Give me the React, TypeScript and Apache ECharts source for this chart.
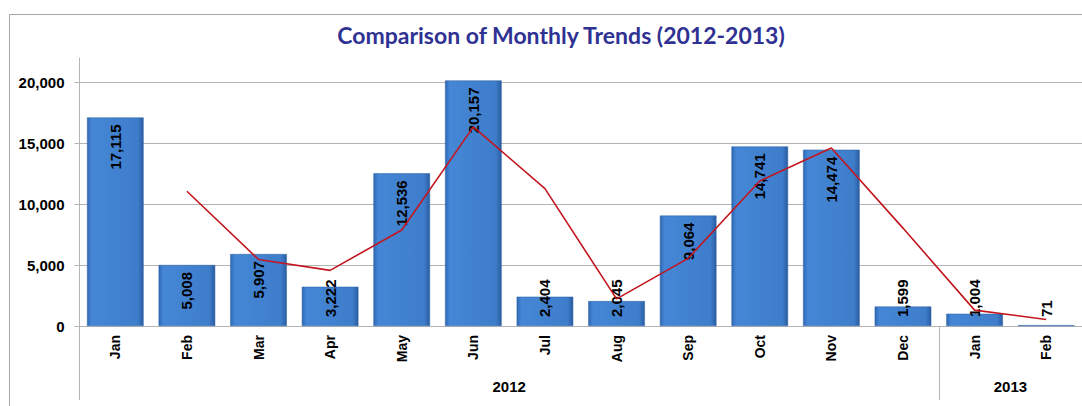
import React, { useEffect, useRef } from "react";
import * as echarts from "echarts";

const months = ["Jan", "Feb", "Mar", "Apr", "May", "Jun", "Jul", "Aug", "Sep", "Oct", "Nov", "Dec", "Jan", "Feb"];
const monthlyValues = [17115, 5008, 5907, 3222, 12536, 20157, 2404, 2045, 9064, 14741, 14474, 1599, 1004, 71];
const trendValues = [null, 11062, 5458, 4565, 7879, 16347, 11281, 2225, 5555, 11903, 14608, 8037, 1302, 538];
const yearLabels = ["2012", "2013"];
const yearCenters = [6, 13];
const yearBoundaries = [0, 12, 14];
const yTicks = [0, 5000, 10000, 15000, 20000];

const FONT = "'Liberation Sans', Arial, sans-serif";
const GRID_COLOR = "#b4b4b4";

export default function App() {
  const ref = useRef<HTMLDivElement>(null);

  useEffect(() => {
    if (!ref.current) return;
    const chart = echarts.init(ref.current, null, { renderer: "svg" });

    const barData = monthlyValues.map((v) => {
      const short = v < 4000;
      return {
        value: v,
        label: short
          ? { position: "insideBottom", align: "left", verticalAlign: "middle", distance: 9 }
          : { position: "insideTop", align: "right", verticalAlign: "middle", distance: 7 },
      };
    });

    const option: any = {
      animation: false,
      backgroundColor: "#ffffff",
      title: {
        text: "Comparison of Monthly Trends (2012-2013)",
        left: 556,
        textAlign: "center",
        top: 18,
        textStyle: {
          fontFamily: "Lato, 'Open Sans', sans-serif",
          fontWeight: "bold",
          fontSize: 23,
          color: "#2f3293",
        },
      },
      graphic: [
        {
          type: "rect",
          left: 7,
          top: 12,
          shape: { x: 0, y: 0, width: 1100, height: 420 },
          style: { fill: "none", stroke: "#a6a6a6", lineWidth: 1 },
          silent: true,
          z: -1,
        },
      ],
      grid: { left: 79.5, right: -4, top: 58, bottom: 80 },
      xAxis: [
        {
          type: "category",
          data: months,
          axisLine: { lineStyle: { color: GRID_COLOR } },
          axisTick: { interval: 0, length: 46, lineStyle: { color: GRID_COLOR } },
          axisLabel: {
            interval: 0,
            rotate: 90,
            margin: 9,
            color: "#000",
            fontFamily: FONT,
            fontWeight: "bold",
            fontSize: 14,
          },
        },
        {
          type: "value",
          min: 0,
          max: 14,
          position: "bottom",
          axisLine: { show: false },
          splitLine: { show: false },
          axisTick: {
            show: true,
            customValues: yearBoundaries,
            length: 74,
            lineStyle: { color: GRID_COLOR },
          },
          axisLabel: {
            customValues: yearCenters,
            formatter: (v: number) => yearLabels[yearCenters.indexOf(v)] ?? "",
            margin: 53,
            color: "#000",
            fontFamily: FONT,
            fontWeight: "bold",
            fontSize: 15,
          },
        },
      ],
      yAxis: {
        type: "value",
        min: 0,
        max: 22000,
        interval: 5000,
        axisLine: { show: true, lineStyle: { color: GRID_COLOR } },
        axisTick: { show: true, length: 5, customValues: yTicks, lineStyle: { color: GRID_COLOR } },
        splitLine: { show: true, lineStyle: { color: GRID_COLOR, width: 1 } },
        axisLabel: {
          customValues: yTicks,
          margin: 15,
          color: "#000",
          fontFamily: FONT,
          fontWeight: "bold",
          fontSize: 15,
          formatter: (v: number) => v.toLocaleString("en-US"),
        },
      },
      series: [
        {
          type: "bar",
          data: barData,
          barCategoryGap: "21%",
          itemStyle: {
            color: new echarts.graphic.LinearGradient(0, 0, 1, 0, [
              { offset: 0, color: "#2f68b3" },
              { offset: 0.08, color: "#4587d6" },
              { offset: 0.9, color: "#3e7dca" },
              { offset: 1, color: "#2b5da2" },
            ]),
            borderColor: "#2a5ea4",
            borderWidth: 0.5,
          },
          label: {
            show: true,
            rotate: 90,
            color: "#000",
            fontFamily: FONT,
            fontWeight: "bold",
            fontSize: 15,
            formatter: (p: any) => Number(p.value).toLocaleString("en-US"),
          },
          z: 2,
        },
        {
          type: "line",
          data: trendValues,
          symbol: "none",
          lineStyle: { color: "#c3161f", width: 1.6 },
          z: 3,
        },
      ],
    };

    chart.setOption(option);
    return () => chart.dispose();
  }, []);

  return (
    <div
      ref={ref}
      style={{ position: "absolute", left: 0, top: 0, width: 1082, height: 406 }}
    />
  );
}
